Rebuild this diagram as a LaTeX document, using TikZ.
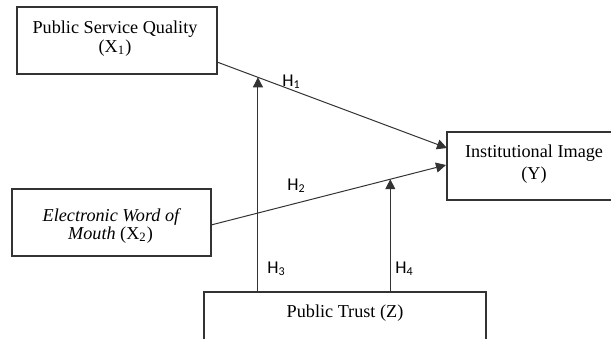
\documentclass[tikz,border=0pt]{standalone}
\usepackage{fontspec}
\setmainfont{Liberation Serif}
\newfontfamily\hfont{Carlito}
\usetikzlibrary{arrows.meta,calc}
\begin{document}
\begin{tikzpicture}[x=0.5pt,y=-0.5pt,
  box/.style={draw=black!80, line width=0.55pt, inner sep=0pt, outer sep=0pt},
  txt/.style={anchor=base, inner sep=0pt, font=\fontsize{9.1}{10.5}\selectfont},
  hlab/.style={anchor=base west, inner sep=0pt, font=\hfont\fontsize{9}{10.5}\selectfont},
  conn/.style={draw=black!80, line width=0.5pt, -{Triangle[length=5pt,width=5pt]}}]
\clip (0,0) rectangle (611,338);
% boxes
\node[box, minimum width=100pt, minimum height=33.5pt] (x1) at (117,40.5) {};
\node[box, minimum width=99.5pt, minimum height=33.5pt] (x2) at (111.5,222.5) {};
\node[box, minimum width=91.5pt, minimum height=34pt] (y) at (538.5,166) {};
\node[box, minimum width=141pt, minimum height=34pt] (z) at (345,326) {};
% texts
\node[txt] (x1a) at (115,33) {Public Service Quality};
\node[txt] (x1b) at (115,52) {(X\textsubscript{1})};
\node[txt] (x2a) at (112,221) {\textit{Electronic Word of}};
\node[txt] (x2b) at (110.5,239) {\textit{Mouth} (X\textsubscript{2})};
\node[txt] (ya) at (534,157) {Institutional Image};
\node[txt] (yb) at (534,179) {(Y)};
\node[txt] (za) at (345,317) {Public Trust (Z)};
% connector end points
\coordinate (h1s) at ($(x1.south east)+(0,-12)$);
\coordinate (h1e) at ($(y.west)+(0,-18)$);
\coordinate (h2s) at ($(x2.east)+(0,2.5)$);
\coordinate (h2e) at ($(y.west)+(-1,-1)$);
\coordinate (p1) at ($(h1s)!0.178!(h1e)$);
\coordinate (p2) at ($(h2s)!0.763!(h2e)$);
% connectors
\draw[conn] (h1s) -- (h1e);
\draw[conn] (h2s) -- (h2e);
\draw[conn] (p1 |- z.north) -- (p1);
\draw[conn] (p2 |- z.north) -- (p2);
% labels
\node[hlab] (l1) at (282,86) {H\textsubscript{1}};
\node[hlab] (l2) at (287,190) {H\textsubscript{2}};
\node[hlab] (l3) at (267,273) {H\textsubscript{3}};
\node[hlab] (l4) at (395,273) {H\textsubscript{4}};
\end{tikzpicture}
\end{document}
